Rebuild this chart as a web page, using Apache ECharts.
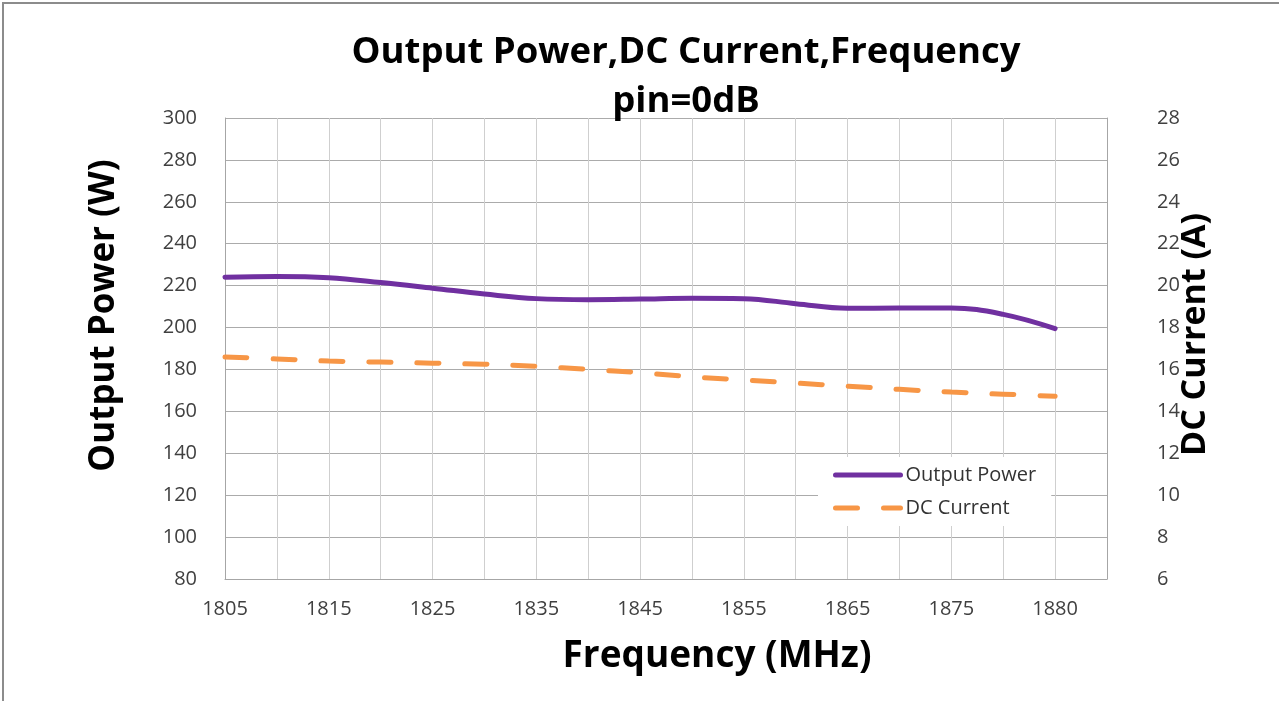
<!DOCTYPE html>
<html>
<head>
<meta charset="utf-8">
<script src="https://cdn.jsdelivr.net/npm/echarts@6/dist/echarts.min.js"></script>
<style>
  html, body { margin: 0; padding: 0; background: #fff; }
  #chart { width: 1279px; height: 701px; }
</style>
</head>
<body>
<div id="chart"></div>
<script>
// x categories (only every other one is labelled in the picture)
const freq = ['1805', '1810', '1815', '1820', '1825', '1830', '1835', '1840', '1845',
  '1850', '1855', '1860', '1865', '1870', '1875', '1878', '1880', ''];
// Output Power (W), left axis
const outputPower = [224, 224.4, 223.8, 221.5, 218.8, 216, 213.8, 213.3, 213.6,
  214, 213.8, 211.4, 209.2, 209.3, 209.3, 206.3, 199.5, null];
// DC Current (A), right axis
const dcCurrent = [16.6, 16.5, 16.4, 16.35, 16.3, 16.25, 16.15, 16.0, 15.85,
  15.65, 15.5, 15.35, 15.2, 15.05, 14.92, 14.82, 14.72, null];
const powerTicks = { min: 80, max: 300, step: 20 };
const currentTicks = { min: 6, max: 28, step: 2 };

const chart = echarts.init(document.getElementById('chart'));
const labelFont = { fontFamily: 'Open Sans', fontSize: 20, color: '#404040' };
const nameFont = { fontFamily: 'Open Sans', fontSize: 34, fontWeight: 'bold', color: '#000' };

chart.setOption({
  animation: false,
  backgroundColor: '#fff',
  title: {
    text: 'Output Power,DC Current,Frequency\npin=0dB',
    left: 681,
    top: 23,
    textAlign: 'center',
    textStyle: { fontFamily: 'Open Sans', fontSize: 36.5, fontWeight: 'bold', color: '#000', lineHeight: 49 }
  },
  graphic: [{
    type: 'rect',
    shape: { x: 3, y: 3, width: 1400, height: 800 },
    style: { fill: 'none', stroke: '#8c8c8c', lineWidth: 2 },
    silent: true
  }],
  legend: {
    orient: 'vertical',
    left: 818,
    top: 457,
    padding: [8, 15, 8, 15],
    backgroundColor: '#fff',
    itemWidth: 65,
    itemHeight: 14,
    itemGap: 13,
    itemStyle: { opacity: 0 },
    lineStyle: { width: 5, cap: 'round' },
    textStyle: { fontFamily: 'Open Sans', fontSize: 20, color: '#333' },
    data: ['Output Power', 'DC Current']
  },
  grid: { left: 225, right: 172, top: 118, bottom: 122 },
  xAxis: {
    type: 'category',
    data: freq,
    boundaryGap: false,
    name: 'Frequency (MHz)',
    nameLocation: 'middle',
    nameGap: 59,
    nameTextStyle: Object.assign({}, nameFont, { fontSize: 37, padding: [0, 0, 0, 102] }),
    axisLine: { lineStyle: { color: '#a6a6a6', width: 1 } },
    axisTick: { show: false },
    axisLabel: Object.assign({ interval: 1, margin: 20 }, labelFont),
    splitLine: { show: true, interval: 0, lineStyle: { color: '#cfcfcf', width: 1 } }
  },
  yAxis: [{
    type: 'value',
    min: powerTicks.min,
    max: powerTicks.max,
    interval: powerTicks.step,
    name: 'Output Power (W)',
    nameLocation: 'middle',
    nameRotate: 90,
    nameGap: 103,
    nameTextStyle: Object.assign({}, nameFont, { fontSize: 35, padding: [0, 0, 0, 66] }),
    axisLine: { show: true, lineStyle: { color: '#a6a6a6', width: 1 } },
    axisTick: { show: false },
    axisLabel: Object.assign({ margin: 28 }, labelFont),
    splitLine: { lineStyle: { color: '#ababab', width: 1 } }
  }, {
    type: 'value',
    position: 'right',
    min: currentTicks.min,
    max: currentTicks.max,
    interval: currentTicks.step,
    name: 'DC Current (A)',
    nameLocation: 'middle',
    nameRotate: 90,
    nameGap: 71,
    nameMoveOverlap: false,
    nameTextStyle: Object.assign({}, nameFont, { padding: [0, 0, 0, 28] }),
    axisLine: { show: true, lineStyle: { color: '#a6a6a6', width: 1 } },
    axisTick: { show: false },
    axisLabel: Object.assign({ margin: 50 }, labelFont),
    splitLine: { show: false }
  }],
  series: [{
    name: 'Output Power',
    type: 'line',
    yAxisIndex: 0,
    data: outputPower,
    smooth: 0.4,
    symbol: 'none',
    lineStyle: { color: '#7030a0', width: 5, cap: 'round' },
    itemStyle: { color: '#7030a0' }
  }, {
    name: 'DC Current',
    type: 'line',
    yAxisIndex: 1,
    data: dcCurrent,
    smooth: 0.4,
    symbol: 'none',
    lineStyle: { color: '#f79646', width: 5, type: [22, 26], cap: 'round' },
    itemStyle: { color: '#f79646' }
  }]
});
</script>
</body>
</html>
